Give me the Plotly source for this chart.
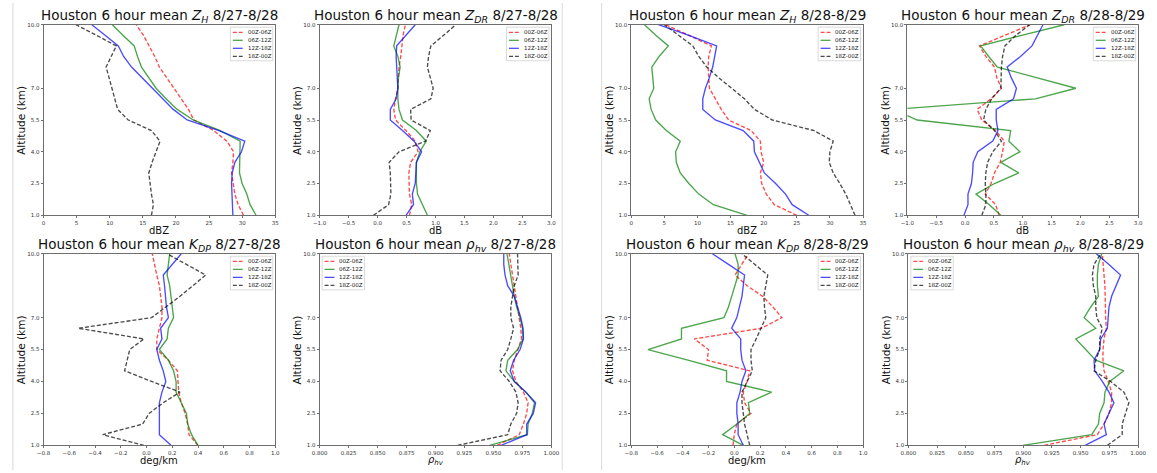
import plotly.graph_objects as go

FIG_W, FIG_H = 1157, 473
FONT = "DejaVu Sans"

# Altitude levels (km) shared by every profile, bottom to top
ALTITUDE_KM = [1.0, 1.5, 2.0, 2.5, 3.0, 3.5, 4.0, 4.5, 5.0, 5.5,
               6.0, 6.5, 7.0, 7.5, 8.0, 8.5, 9.0, 9.5, 10.0]
ALT_TICKS = [1.0, 2.5, 4.0, 5.5, 7.0, 10.0]
ALT_TICK_TEXT = ["1.0", "2.5", "4.0", "5.5", "7.0", "10.0"]

PERIODS = ["00Z-06Z", "06Z-12Z", "12Z-18Z", "18Z-00Z"]
PERIOD_COLORS = ["#ff0000", "#008000", "#0000ff", "#000000"]
PERIOD_DASH = ["4px,2px", "solid", "solid", "4px,2px"]

# ---- 8/27-8/28 -------------------------------------------------------
zh_0827_00 = [30.2, 29.4, 28.9, 28.7, 28.4, 28.6, 28.7, 27.7, 25.7, 22.7, 21.9, 20.8, 19.7, 18.7, 17.5, 16.8, 16.0, 15.1, 14.0]
zh_0827_06 = [32.1, 31.2, 30.7, 30.0, 29.6, 29.6, 29.7, 29.7, 26.7, 22.6, 20.2, 18.5, 17.0, 15.9, 14.8, 14.2, 13.7, 12.0, 10.4]
zh_0827_12 = [28.6, 28.5, 28.4, 28.4, 28.5, 28.9, 29.9, 30.4, 26.5, 21.7, 19.6, 18.0, 16.5, 14.9, 13.3, 12.1, 11.3, 9.3, 7.3]
zh_0827_18 = [16.3, 16.6, 16.3, 16.1, 15.9, 16.4, 17.0, 17.6, 16.3, 12.8, 11.2, 10.8, 10.4, 9.9, 9.45, 10.2, 11.0, 8.0, 4.9]

zdr_0827_00 = [0.55, 0.59, 0.55, 0.54, 0.54, 0.57, 0.70, 0.65, 0.49, 0.31, 0.28, 0.31, 0.35, 0.36, 0.37, 0.40, 0.42, 0.44, 0.48]
zdr_0827_06 = [0.86, 0.77, 0.69, 0.67, 0.67, 0.67, 0.73, 0.84, 0.67, 0.43, 0.37, 0.35, 0.35, 0.36, 0.39, 0.35, 0.28, 0.32, 0.37]
zdr_0827_12 = [0.49, 0.62, 0.60, 0.65, 0.66, 0.67, 0.76, 0.63, 0.43, 0.22, 0.22, 0.32, 0.35, 0.34, 0.32, 0.32, 0.33, 0.49, 0.65]
zdr_0827_18 = [-0.07, 0.19, 0.23, 0.23, 0.22, 0.20, 0.37, 0.83, 0.91, 0.58, 0.57, 0.92, 0.96, 0.91, 0.86, 0.88, 0.92, 1.14, 1.35]

kdp_0827_00 = [0.40, 0.33, 0.32, 0.30, 0.27, 0.25, 0.245, 0.24, 0.17, 0.08, 0.08, 0.10, 0.12, 0.12, 0.11, 0.10, 0.08, 0.065, 0.045]
kdp_0827_06 = [0.40, 0.35, 0.32, 0.31, 0.27, 0.23, 0.23, 0.21, 0.17, 0.10, 0.16, 0.17, 0.21, 0.20, 0.19, 0.18, 0.16, 0.17, 0.18]
kdp_0827_12 = [0.19, 0.10, 0.10, 0.10, 0.10, 0.12, 0.15, 0.13, 0.10, 0.08, 0.12, 0.11, 0.17, 0.155, 0.15, 0.14, 0.13, 0.20, 0.27]
kdp_0827_18 = [-0.02, -0.34, -0.03, 0.02, 0.13, 0.26, 0.04, -0.17, -0.15, -0.13, -0.02, -0.53, 0.04, 0.15, 0.26, 0.36, 0.46, 0.31, 0.16]

rhv_0827_00 = [0.9532, 0.9722, 0.9759, 0.9787, 0.9799, 0.9759, 0.9694, 0.9665, 0.9680, 0.9713, 0.9742, 0.9736, 0.9722, 0.9710, 0.9694, 0.9685, 0.9665, 0.9650, 0.9637]
rhv_0827_06 = [0.9467, 0.9793, 0.9799, 0.9835, 0.9855, 0.9780, 0.9680, 0.9608, 0.9623, 0.9708, 0.9756, 0.9750, 0.9730, 0.9700, 0.9680, 0.9665, 0.9650, 0.9637, 0.9617]
rhv_0827_12 = [0.9566, 0.9787, 0.9787, 0.9844, 0.9864, 0.9780, 0.9680, 0.9645, 0.9674, 0.9730, 0.9759, 0.9756, 0.9736, 0.9710, 0.9680, 0.9623, 0.9600, 0.9589, 0.9589]
rhv_0827_18 = [0.9191, 0.9623, 0.9650, 0.9700, 0.9713, 0.9694, 0.9637, 0.9557, 0.9566, 0.9623, 0.9650, 0.9674, 0.9650, 0.9650, 0.9665, 0.9680, 0.9713, 0.9713, 0.9708]

# ---- 8/28-8/29 -------------------------------------------------------
zh_0828_00 = [25.0, 21.6, 20.4, 19.7, 19.5, 20.0, 19.6, 19.5, 18.1, 14.7, 13.6, 12.7, 11.8, 11.7, 11.6, 11.7, 12.1, 8.7, 5.2]
zh_0828_06 = [17.5, 12.4, 10.2, 8.7, 7.4, 6.8, 6.7, 7.4, 5.3, 3.7, 3.0, 2.7, 3.4, 3.2, 3.1, 4.2, 5.6, 3.7, 2.0]
zh_0828_12 = [26.8, 24.3, 23.3, 21.8, 20.1, 19.4, 18.6, 18.5, 16.9, 12.7, 10.8, 10.8, 11.2, 11.8, 12.3, 12.6, 12.9, 8.7, 4.1]
zh_0828_18 = [33.8, 33.1, 32.4, 31.5, 30.5, 29.9, 30.0, 30.5, 27.6, 21.3, 18.6, 17.1, 15.1, 13.2, 11.4, 10.2, 9.3, 7.2, 5.0]

zdr_0828_00 = [0.59, 0.53, 0.35, 0.45, 0.51, 0.61, 0.65, 0.68, 0.53, 0.29, 0.21, 0.45, 0.63, 0.55, 0.51, 0.36, 0.25, 0.68, 1.13]
zdr_0828_06 = [0.62, 0.42, 0.19, 0.51, 0.93, 0.62, 0.95, 0.76, 0.79, -0.83, -1.25, 1.22, 1.92, 1.22, 0.56, 0.41, 0.27, 0.98, 1.72]
zdr_0828_12 = [-0.02, 0.05, 0.05, 0.11, 0.13, 0.14, 0.22, 0.48, 0.57, 0.54, 0.54, 0.84, 0.89, 0.80, 0.73, 0.96, 1.16, 1.26, 1.35]
zdr_0828_18 = [0.29, 0.36, 0.36, 0.35, 0.36, 0.39, 0.48, 0.63, 0.51, 0.32, 0.36, 0.46, 0.62, 0.62, 0.63, 0.65, 0.69, 0.88, 1.12]

kdp_0828_00 = [-0.01, 0.00, 0.02, 0.13, 0.08, 0.07, 0.10, 0.12, -0.21, -0.20, -0.31, 0.21, 0.37, 0.30, 0.22, 0.10, 0.006, 0.06, 0.11]
kdp_0828_06 = [0.07, -0.09, 0.02, 0.12, 0.11, 0.29, -0.06, -0.06, -0.36, -0.67, -0.41, -0.41, -0.08, -0.045, -0.02, 0.006, 0.03, 0.03, 0.006]
kdp_0828_12 = [0.07, 0.03, 0.03, 0.02, 0.02, 0.045, 0.06, 0.09, 0.06, 0.05, 0.05, -0.02, 0.02, 0.04, 0.06, 0.07, 0.08, -0.045, -0.17]
kdp_0828_18 = [0.12, 0.10, 0.08, 0.07, 0.06, 0.06, 0.10, 0.14, 0.13, 0.13, 0.17, 0.21, 0.245, 0.235, 0.23, 0.245, 0.26, 0.16, 0.06]

rhv_0828_00 = [0.9183, 0.9645, 0.9703, 0.9746, 0.9769, 0.9769, 0.9740, 0.9703, 0.9694, 0.9694, 0.9703, 0.9723, 0.9717, 0.9717, 0.9717, 0.9711, 0.9703, 0.9694, 0.9688]
rhv_0828_06 = [0.8996, 0.9596, 0.9654, 0.9665, 0.9703, 0.9711, 0.9752, 0.9876, 0.9631, 0.9544, 0.9457, 0.9631, 0.9530, 0.9587, 0.9654, 0.9645, 0.9645, 0.9654, 0.9683]
rhv_0828_12 = [0.9538, 0.9723, 0.9703, 0.9746, 0.9789, 0.9746, 0.9688, 0.9622, 0.9616, 0.9665, 0.9674, 0.9732, 0.9740, 0.9746, 0.9769, 0.9810, 0.9847, 0.9746, 0.9636]
rhv_0828_18 = [0.9732, 0.9861, 0.9861, 0.9890, 0.9919, 0.9876, 0.9761, 0.9616, 0.9631, 0.9665, 0.9665, 0.9688, 0.9640, 0.9631, 0.9631, 0.9610, 0.9602, 0.9616, 0.9674]

# ---- axis tick sets --------------------------------------------------
ZH_TICKS = [0, 5, 10, 15, 20, 25, 30, 35]
ZH_TEXT = ["0", "5", "10", "15", "20", "25", "30", "35"]
ZDR_TICKS = [-1.0, -0.5, 0.0, 0.5, 1.0, 1.5, 2.0, 2.5, 3.0]
ZDR_TEXT = ["\u22121.0", "\u22120.5", "0.0", "0.5", "1.0", "1.5", "2.0", "2.5", "3.0"]
KDP_TICKS = [-0.8, -0.6, -0.4, -0.2, 0.0, 0.2, 0.4, 0.6, 0.8, 1.0]
KDP_TEXT = ["\u22120.8", "\u22120.6", "\u22120.4", "\u22120.2", "0.0", "0.2", "0.4", "0.6", "0.8", "1.0"]
RHV_TICKS = [0.800, 0.825, 0.850, 0.875, 0.900, 0.925, 0.950, 0.975, 1.000]
RHV_TEXT = ["0.800", "0.825", "0.850", "0.875", "0.900", "0.925", "0.950", "0.975", "1.000"]

ZH_NAME = "<i>Z<sub>H</sub></i>"
ZDR_NAME = "<i>Z<sub>DR</sub></i>"
KDP_NAME = "<i>K<sub>DP</sub></i>"
RHV_NAME = "<i>\u03c1<sub>hv</sub></i>"

# panel boxes in pixels: left, right, top, bottom
panels = [
    dict(var=ZH_NAME, day="8/27-8/28", xlabel="dBZ", rng=[0, 35], ticks=ZH_TICKS, text=ZH_TEXT,
         box=(36, 271, 22, 215), leg="right", series=[zh_0827_00, zh_0827_06, zh_0827_12, zh_0827_18]),
    dict(var=ZDR_NAME, day="8/27-8/28", xlabel="dB", rng=[-1, 3], ticks=ZDR_TICKS, text=ZDR_TEXT,
         box=(316, 551, 22, 215), leg="right", series=[zdr_0827_00, zdr_0827_06, zdr_0827_12, zdr_0827_18]),
    dict(var=ZH_NAME, day="8/28-8/29", xlabel="dBZ", rng=[0, 35], ticks=ZH_TICKS, text=ZH_TEXT,
         box=(632, 867, 22, 215), leg="right", series=[zh_0828_00, zh_0828_06, zh_0828_12, zh_0828_18]),
    dict(var=ZDR_NAME, day="8/28-8/29", xlabel="dB", rng=[-1, 3], ticks=ZDR_TICKS, text=ZDR_TEXT,
         box=(912, 1146, 22, 215), leg="right", series=[zdr_0828_00, zdr_0828_06, zdr_0828_12, zdr_0828_18]),
    dict(var=KDP_NAME, day="8/27-8/28", xlabel="deg/km", rng=[-0.8, 1.0], ticks=KDP_TICKS, text=KDP_TEXT,
         box=(36, 271, 254, 448), leg="right", series=[kdp_0827_00, kdp_0827_06, kdp_0827_12, kdp_0827_18]),
    dict(var=RHV_NAME, day="8/27-8/28", xlabel=RHV_NAME, rng=[0.8, 1.0], ticks=RHV_TICKS, text=RHV_TEXT,
         box=(316, 551, 254, 448), leg="left", series=[rhv_0827_00, rhv_0827_06, rhv_0827_12, rhv_0827_18]),
    dict(var=KDP_NAME, day="8/28-8/29", xlabel="deg/km", rng=[-0.8, 1.0], ticks=KDP_TICKS, text=KDP_TEXT,
         box=(632, 867, 254, 448), leg="right", series=[kdp_0828_00, kdp_0828_06, kdp_0828_12, kdp_0828_18]),
    dict(var=RHV_NAME, day="8/28-8/29", xlabel=RHV_NAME, rng=[0.8, 1.0], ticks=RHV_TICKS, text=RHV_TEXT,
         box=(913, 1146, 254, 448), leg="left", series=[rhv_0828_00, rhv_0828_06, rhv_0828_12, rhv_0828_18]),
]


def px_x(v):
    return v / FIG_W


def px_y(v):
    return 1 - v / FIG_H


fig = go.Figure()
shapes = []
annotations = []
axis_style = dict(showline=True, mirror=True, linecolor="#6e6e6e", linewidth=1,
                  ticks="outside", ticklen=2, tickwidth=0.8, tickcolor="#6e6e6e",
                  showgrid=False, zeroline=False,
                  tickfont=dict(family=FONT, size=5.5, color="#333333"))

for i, p in enumerate(panels, start=1):
    sfx = "" if i == 1 else str(i)
    xa, ya = "x" + sfx, "y" + sfx
    left, right, top, bottom = p["box"]
    aw, ah = right - left, bottom - top

    for name, vals, color, dash in zip(PERIODS, p["series"], PERIOD_COLORS, PERIOD_DASH):
        fig.add_trace(go.Scatter(x=vals, y=ALTITUDE_KM, mode="lines", name=name,
                                 line=dict(color=color, width=1.35, dash=dash),
                                 opacity=0.7, xaxis=xa, yaxis=ya, showlegend=False))

    fig.layout["xaxis" + sfx] = dict(domain=[px_x(left), px_x(right)], anchor=ya, range=p["rng"],
                                     tickmode="array", tickvals=p["ticks"], ticktext=p["text"],
                                     **axis_style)
    fig.layout["yaxis" + sfx] = dict(domain=[px_y(bottom), px_y(top)], anchor=xa, range=[1, 10],
                                     tickmode="array", tickvals=ALT_TICKS, ticktext=ALT_TICK_TEXT,
                                     **axis_style)

    # panel title, axis labels
    cx = (left + right) / 2
    annotations.append(dict(text="Houston 6 hour mean " + p["var"] + " " + p["day"],
                            xref="paper", yref="paper", x=px_x(cx), y=px_y(top - 9),
                            xanchor="center", yanchor="middle", showarrow=False,
                            font=dict(family=FONT, size=13.5, color="#111111")))
    annotations.append(dict(text=p["xlabel"], xref="paper", yref="paper",
                            x=px_x(cx), y=px_y(bottom + 15), xanchor="center", yanchor="middle",
                            showarrow=False, font=dict(family=FONT, size=10, color="#111111")))
    annotations.append(dict(text="Altitude (km)", xref="paper", yref="paper", textangle=-90,
                            x=px_x(left - 23), y=px_y((top + bottom) / 2), xanchor="center",
                            yanchor="middle", showarrow=False,
                            font=dict(family=FONT, size=10.5, color="#111111")))

    # legend box drawn inside the axes
    lw_, lh_ = 43, 34
    lx = aw - 2.5 - lw_ if p["leg"] == "right" else 2.5
    ly = 2.5
    xr, yr = xa + " domain", ya + " domain"
    shapes.append(dict(type="rect", xref=xr, yref=yr, x0=lx / aw, x1=(lx + lw_) / aw,
                       y0=1 - (ly + lh_) / ah, y1=1 - ly / ah,
                       line=dict(color="#d0d0d0", width=0.8), fillcolor="rgba(255,255,255,0.85)",
                       layer="above"))
    for k, (name, color, dash) in enumerate(zip(PERIODS, PERIOD_COLORS, PERIOD_DASH)):
        ry = ly + 5.2 + k * 8.1
        shapes.append(dict(type="line", xref=xr, yref=yr, x0=(lx + 2.5) / aw, x1=(lx + 12.5) / aw,
                           y0=1 - ry / ah, y1=1 - ry / ah, opacity=0.7, layer="above",
                           line=dict(color=color, width=1.3, dash=dash)))
        annotations.append(dict(text=name, xref=xr, yref=yr, x=(lx + 15.5) / aw, y=1 - ry / ah,
                                xanchor="left", yanchor="middle", showarrow=False,
                                font=dict(family=FONT, size=5.5, color="#222222")))

# thin panel separators
for sx in (5, 562, 602):
    shapes.append(dict(type="line", xref="paper", yref="paper", x0=px_x(sx), x1=px_x(sx),
                       y0=0, y1=1, line=dict(color="#d9d9d9", width=1)))

fig.update_layout(width=FIG_W, height=FIG_H, margin=dict(l=0, r=0, t=0, b=0),
                  paper_bgcolor="white", plot_bgcolor="white", showlegend=False,
                  shapes=shapes, annotations=annotations)

fig.write_html("out.html")
